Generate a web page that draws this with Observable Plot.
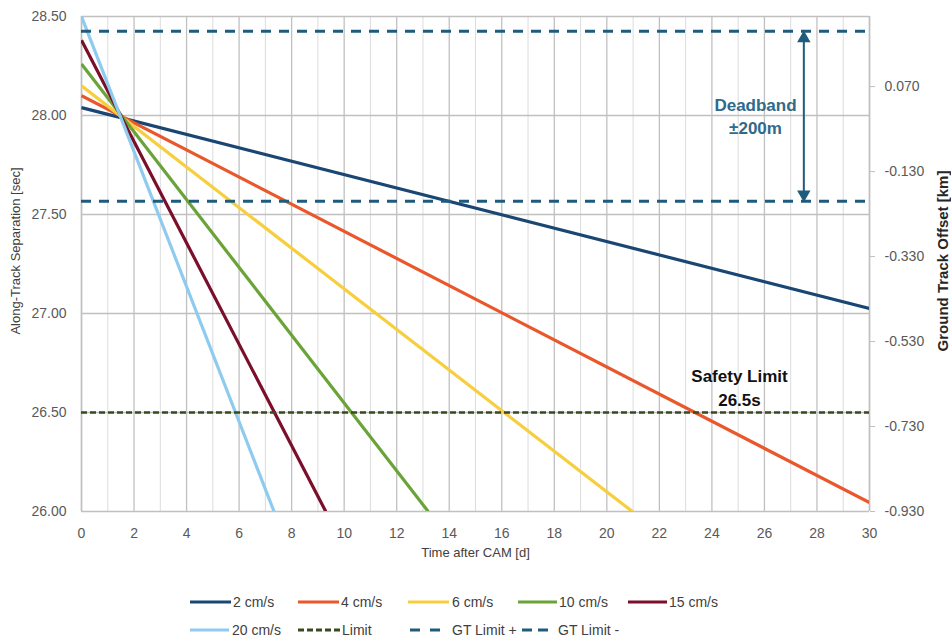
<!DOCTYPE html>
<html>
<head>
<meta charset="utf-8">
<script src="https://cdn.jsdelivr.net/npm/d3@7"></script>
<script src="https://cdn.jsdelivr.net/npm/@observablehq/plot@0.6"></script>
<style>
  html, body { margin: 0; padding: 0; background: #fff; }
  #wrap { position: relative; width: 951px; height: 639px; font-family: Arial, "Liberation Sans", sans-serif; }
  #legend { position: absolute; left: 0; top: 575px; width: 951px; height: 64px; }
  .item { position: absolute; display: flex; align-items: center; font-size: 14px; color: #404040; white-space: nowrap; }
  .item svg { display: block; }
</style>
</head>
<body>
<div id="wrap"><div id="chart"></div><div id="legend"></div></div>
<script>
// ---- data ----
const series    = ["2 cm/s", "4 cm/s", "6 cm/s", "10 cm/s", "15 cm/s", "20 cm/s"];
const colors    = ["#1A4673", "#E9572B", "#F6CE3E", "#6AA338", "#7A0E2B", "#8FCBEE"];
const startDay  = [0, 0, 0, 0, 0, 0];
const startSep  = [28.04, 28.10, 28.15, 28.26, 28.38, 28.50];
const endDay    = [30, 30, 20.97, 13.2, 9.3, 7.33];
const endSep    = [27.025, 26.045, 26.0, 26.0, 26.0, 26.0];
const limitSep  = 26.5;               // Safety limit [sec]
const gtLimitsKm = [0.2, -0.2];       // Ground track deadband [km]
const xTicks    = [0, 2, 4, 6, 8, 10, 12, 14, 16, 18, 20, 22, 24, 26, 28, 30];
const xMinor    = [1, 3, 5, 7, 9, 11, 13, 15, 17, 19, 21, 23, 25, 27, 29];
const leftTicks = [26.0, 26.5, 27.0, 27.5, 28.0, 28.5];
const rightTicks = [-0.93, -0.73, -0.53, -0.33, -0.13, 0.07];
const secDomain = [26, 28.5];
const kmDomain  = [-0.93, 0.235];

// secondary axis mapping km <-> sec
const kmToSec = d3.scaleLinear().domain(kmDomain).range(secDomain);

const lines = series.map((s, i) => ({
  name: s, color: colors[i],
  x1: startDay[i], y1: startSep[i], x2: endDay[i], y2: endSep[i]
}));
const gt = gtLimitsKm.map(k => ({ km: k, sec: kmToSec(k) }));

const arrowX = 27.5;
const gtMidSec = kmToSec(0);

const chart = Plot.plot({
  width: 951,
  height: 575,
  marginLeft: 81,
  marginRight: 82,
  marginTop: 16,
  marginBottom: 64,
  x: { domain: [0, 30] },
  y: { domain: secDomain },
  style: { fontFamily: "Arial, 'Liberation Sans', sans-serif", fontSize: "14px", color: "#595959", background: "#fff", overflow: "visible" },
  marks: [
    Plot.gridX(xMinor, { stroke: "#dcdcdc", strokeOpacity: 1, strokeWidth: 1 }),
    Plot.gridX(xTicks, { stroke: "#c0c0c0", strokeOpacity: 1, strokeWidth: 1.3 }),
    Plot.gridY(leftTicks, { stroke: "#c0c0c0", strokeOpacity: 1, strokeWidth: 1.3 }),
    Plot.axisX(xTicks, { tickSize: 0, tickPadding: 17, label: null, fontSize: 14, fill: "#595959" }),
    Plot.axisY(leftTicks, { anchor: "left", tickSize: 0, tickPadding: 15, tickFormat: d => d.toFixed(2), label: null, fontSize: 14, fill: "#595959" }),
    Plot.axisY(rightTicks.map(k => kmToSec(k)), { anchor: "right", tickSize: 5, stroke: "#bfbfbf", tickPadding: 10, tickFormat: d => kmToSec.invert(d).toFixed(3), label: null, fontSize: 14, fill: "#595959" }),
    Plot.ruleX([30], { stroke: "#bfbfbf", strokeWidth: 1.5 }),
    Plot.ruleX([0], { stroke: "#bfbfbf", strokeWidth: 1.5 }),
    // series
    Plot.link(lines, { x1: "x1", y1: "y1", x2: "x2", y2: "y2", stroke: "color", strokeWidth: 3.2, clip: true }),
    // limits
    Plot.ruleY([limitSep], { stroke: "#3A4A1F", strokeWidth: 2.6, strokeDasharray: "6,3" }),
    Plot.ruleY(gt, { y: "sec", stroke: "#1F5C7C", strokeWidth: 3, strokeDasharray: "10,8" }),
    // deadband arrow
    Plot.link([{ a: gt[0].sec, b: gt[1].sec }], { x1: arrowX, x2: arrowX, y1: d => d.a - 0.04, y2: d => d.b + 0.04, stroke: "#1F5C7C", strokeWidth: 2 }),
    Plot.dot([gt[0]], { x: arrowX, y: d => d.sec - 0.035, symbol: "triangle", r: 5, fill: "#1F5C7C", stroke: "none" }),
    Plot.dot([gt[1]], { x: arrowX, y: d => d.sec + 0.035, symbol: "triangle", r: 5, rotate: 180, fill: "#1F5C7C", stroke: "none" }),
    // annotations
    Plot.text(["Deadband\n±200m"], { x: 25.66, y: gtMidSec + 0.005, text: d => d, fontSize: 17, fontWeight: "bold", fill: "#2E6A8B", lineHeight: 1.35, textAnchor: "middle" }),
    Plot.text(["Safety Limit\n26.5s"], { x: 25.05, y: limitSep + 0.13, text: d => d, fontSize: 17, fontWeight: "bold", fill: "#111", lineHeight: 1.4, textAnchor: "middle" }),
    // axis titles
    Plot.text(["Along-Track Separation [sec]"], { frameAnchor: "left", dx: -66, dy: -13, rotate: -90, textAnchor: "middle", text: d => d, fontSize: 13, fill: "#404040" }),
    Plot.text(["Ground Track Offset [km]"], { frameAnchor: "right", dx: 74, dy: -3, rotate: -90, textAnchor: "middle", text: d => d, fontSize: 15, fontWeight: "bold", fill: "#262626" }),
    Plot.text(["Time after CAM [d]"], { frameAnchor: "bottom", dy: 45, textAnchor: "middle", text: d => d, fontSize: 13, fill: "#404040" })
  ]
});
document.getElementById("chart").appendChild(chart);

// ---- legend ----
const legendItems = [
  { label: series[0], color: colors[0], dash: null, left: 190, top: 27, w: 41, gap: 2 },
  { label: series[1], color: colors[1], dash: null, left: 298, top: 27, w: 41, gap: 2 },
  { label: series[2], color: colors[2], dash: null, left: 408, top: 27, w: 41, gap: 3 },
  { label: series[3], color: colors[3], dash: null, left: 518, top: 27, w: 39, gap: 2 },
  { label: series[4], color: colors[4], dash: null, left: 628, top: 27, w: 39, gap: 2 },
  { label: series[5], color: colors[5], dash: null, left: 190, top: 55, w: 39, gap: 3 },
  { label: "Limit", color: "#3A4A1F", dash: "6,3", left: 298, top: 55, w: 42, gap: 2 },
  { label: "GT Limit +", color: "#1F5C7C", dash: "10,10", left: 410, top: 55, w: 30, gap: 12 },
  { label: "GT Limit -", color: "#1F5C7C", dash: "10,6", left: 522, top: 55, w: 26, gap: 10 }
];
const leg = document.getElementById("legend");
legendItems.forEach(it => {
  const div = document.createElement("div");
  div.className = "item";
  div.style.left = it.left + "px";
  div.style.top = (it.top - 9) + "px";
  div.style.height = "18px";
  div.innerHTML = `<svg width="${it.w}" height="6" style="margin-right:${it.gap}px"><line x1="0" y1="3" x2="${it.w}" y2="3" stroke="${it.color}" stroke-width="3" ${it.dash ? `stroke-dasharray="${it.dash}"` : ""}/></svg><span>${it.label}</span>`;
  leg.appendChild(div);
});
</script>
</body>
</html>
